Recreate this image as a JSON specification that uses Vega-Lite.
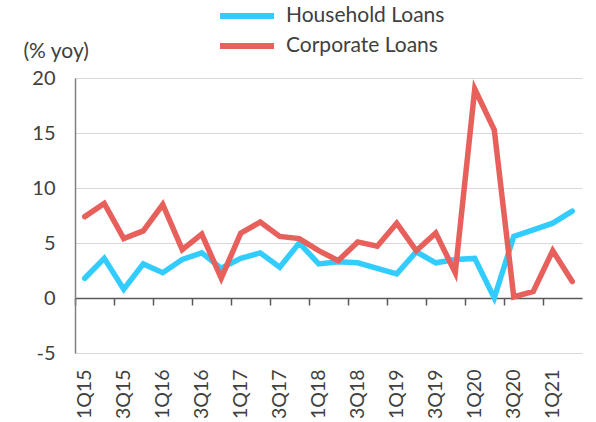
{
  "$schema": "https://vega.github.io/schema/vega-lite/v6.json",
  "autosize": "none",
  "width": 507,
  "height": 275,
  "padding": {"left": 75, "top": 78, "right": 14, "bottom": 69},
  "background": "white",
  "config": {"view": {"stroke": null}, "font": "Lato"},
  "data": {"values": [
    {"q": "1Q15", "series": "Household Loans", "v": 1.8},
    {"q": "2Q15", "series": "Household Loans", "v": 3.6},
    {"q": "3Q15", "series": "Household Loans", "v": 0.8},
    {"q": "4Q15", "series": "Household Loans", "v": 3.1},
    {"q": "1Q16", "series": "Household Loans", "v": 2.3},
    {"q": "2Q16", "series": "Household Loans", "v": 3.5},
    {"q": "3Q16", "series": "Household Loans", "v": 4.1},
    {"q": "4Q16", "series": "Household Loans", "v": 2.7},
    {"q": "1Q17", "series": "Household Loans", "v": 3.6},
    {"q": "2Q17", "series": "Household Loans", "v": 4.1},
    {"q": "3Q17", "series": "Household Loans", "v": 2.8},
    {"q": "4Q17", "series": "Household Loans", "v": 5.0},
    {"q": "1Q18", "series": "Household Loans", "v": 3.1},
    {"q": "2Q18", "series": "Household Loans", "v": 3.3},
    {"q": "3Q18", "series": "Household Loans", "v": 3.2},
    {"q": "4Q18", "series": "Household Loans", "v": 2.7},
    {"q": "1Q19", "series": "Household Loans", "v": 2.2},
    {"q": "2Q19", "series": "Household Loans", "v": 4.2},
    {"q": "3Q19", "series": "Household Loans", "v": 3.2},
    {"q": "4Q19", "series": "Household Loans", "v": 3.5},
    {"q": "1Q20", "series": "Household Loans", "v": 3.6},
    {"q": "2Q20", "series": "Household Loans", "v": 0.0},
    {"q": "3Q20", "series": "Household Loans", "v": 5.6},
    {"q": "4Q20", "series": "Household Loans", "v": 6.2},
    {"q": "1Q21", "series": "Household Loans", "v": 6.8},
    {"q": "2Q21", "series": "Household Loans", "v": 7.9},
    {"q": "1Q15", "series": "Corporate Loans", "v": 7.4},
    {"q": "2Q15", "series": "Corporate Loans", "v": 8.6},
    {"q": "3Q15", "series": "Corporate Loans", "v": 5.4},
    {"q": "4Q15", "series": "Corporate Loans", "v": 6.1},
    {"q": "1Q16", "series": "Corporate Loans", "v": 8.5},
    {"q": "2Q16", "series": "Corporate Loans", "v": 4.4},
    {"q": "3Q16", "series": "Corporate Loans", "v": 5.8},
    {"q": "4Q16", "series": "Corporate Loans", "v": 1.8},
    {"q": "1Q17", "series": "Corporate Loans", "v": 5.9},
    {"q": "2Q17", "series": "Corporate Loans", "v": 6.9},
    {"q": "3Q17", "series": "Corporate Loans", "v": 5.6},
    {"q": "4Q17", "series": "Corporate Loans", "v": 5.4},
    {"q": "1Q18", "series": "Corporate Loans", "v": 4.3},
    {"q": "2Q18", "series": "Corporate Loans", "v": 3.4},
    {"q": "3Q18", "series": "Corporate Loans", "v": 5.1},
    {"q": "4Q18", "series": "Corporate Loans", "v": 4.7},
    {"q": "1Q19", "series": "Corporate Loans", "v": 6.8},
    {"q": "2Q19", "series": "Corporate Loans", "v": 4.3},
    {"q": "3Q19", "series": "Corporate Loans", "v": 5.9},
    {"q": "4Q19", "series": "Corporate Loans", "v": 2.3},
    {"q": "1Q20", "series": "Corporate Loans", "v": 19.0},
    {"q": "2Q20", "series": "Corporate Loans", "v": 15.3},
    {"q": "3Q20", "series": "Corporate Loans", "v": 0.1},
    {"q": "4Q20", "series": "Corporate Loans", "v": 0.6},
    {"q": "1Q21", "series": "Corporate Loans", "v": 4.3},
    {"q": "2Q21", "series": "Corporate Loans", "v": 1.5}
  ]},
  "resolve": {"axis": {"x": "independent"}},
  "layer": [
    {
      "mark": {"type": "line", "strokeWidth": 5.5, "strokeCap": "round", "strokeJoin": "miter"},
      "encoding": {
        "x": {
          "field": "q", "type": "ordinal", "sort": null,
          "scale": {"type": "point", "padding": 0.5},
          "axis": {
            "orient": "bottom", "title": null, "domain": false, "ticks": false, "grid": false,
            "values": ["1Q15","3Q15","1Q16","3Q16","1Q17","3Q17","1Q18","3Q18","1Q19","3Q19","1Q20","3Q20","1Q21"],
            "labelAngle": -90, "labelAlign": "right", "labelBaseline": "middle",
            "labelPadding": 16, "labelFont": "Lato", "labelFontSize": 19.5, "labelColor": "#404040"
          }
        },
        "y": {
          "field": "v", "type": "quantitative",
          "scale": {"domain": [-5, 20], "nice": false, "zero": false},
          "axis": {
            "values": [-5, 0, 5, 10, 15, 20], "ticks": false, "labelExpr": "'' + datum.value",
            "domain": true, "domainColor": "#7f7f7f", "domainWidth": 1.5,
            "grid": true, "gridColor": "#d9d9d9", "gridWidth": 1.2,
            "labelFont": "Lato", "labelFontSize": 20, "labelColor": "#404040", "labelPadding": 20,
            "title": "(% yoy)", "titleAngle": 0, "titleAlign": "left", "titleBaseline": "middle",
            "titleX": -52, "titleY": -27, "titleFont": "Lato", "titleFontSize": 21,
            "titleFontWeight": "normal", "titleColor": "#404040"
          }
        },
        "color": {
          "field": "series", "type": "nominal",
          "scale": {"domain": ["Household Loans", "Corporate Loans"], "range": ["#33ccff", "#e8605b"]},
          "legend": {
            "orient": "none", "legendX": 142, "legendY": -77, "title": null,
            "symbolType": "stroke", "symbolSize": 2916, "symbolStrokeWidth": 6,
            "clipHeight": 30,
            "labelFont": "Lato", "labelFontSize": 21, "labelColor": "#404040",
            "rowPadding": 0, "labelOffset": 9
          }
        },
        "order": {"field": "series", "sort": "descending"}
      }
    },
    {
      "mark": {"type": "point", "opacity": 0},
      "encoding": {
        "x": {
          "field": "q", "type": "ordinal", "sort": null,
          "axis": {
            "orient": "bottom", "title": null, "labels": false, "grid": false,
            "offset": -55, "domain": true, "domainColor": "#595959", "domainWidth": 1.5,
            "ticks": true, "tickSize": 7, "tickColor": "#595959", "tickWidth": 1.5, "tickOffset": -9.75,
            "values": ["1Q15","3Q15","1Q16","3Q16","1Q17","3Q17","1Q18","3Q18","1Q19","3Q19","1Q20","3Q20","1Q21"]
          }
        }
      }
    }
  ]
}
